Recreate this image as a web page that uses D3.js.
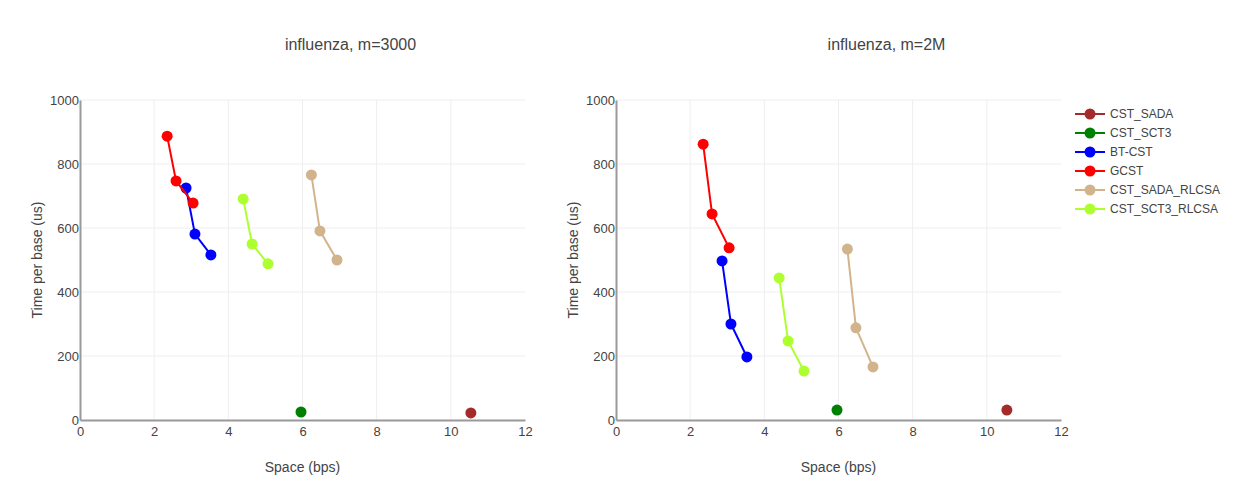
<!DOCTYPE html>
<html>
<head>
<meta charset="utf-8">
<script src="https://cdn.jsdelivr.net/npm/d3@7"></script>
<style>
  body { margin: 0; background: #fff; }
  svg { font-family: "Liberation Sans", Arial, sans-serif; }
</style>
</head>
<body>
<svg id="chart"></svg>
<script>
// data
const seriesNames = ["CST_SADA", "CST_SCT3", "BT-CST", "GCST", "CST_SADA_RLCSA", "CST_SCT3_RLCSA"];
const seriesColors = ["#a52a2a", "#008000", "#0000ff", "#ff0000", "#d2b48c", "#adff2f"];
const panelTitles = ["influenza, m=3000", "influenza, m=2M"];

const spaceSADA = [10.54];
const spaceSCT3 = [5.96];
const spaceBT = [2.86, 3.10, 3.53];
const spaceGCST = [2.35, 2.59, 3.05];
const spaceSADAR = [6.24, 6.47, 6.93];
const spaceSCT3R = [4.40, 4.64, 5.07];

// left panel, m=3000
const timeSADA_3000 = [22];
const timeSCT3_3000 = [25];
const timeBT_3000 = [725, 581, 516];
const timeGCST_3000 = [887, 747, 678];
const timeSADAR_3000 = [766, 591, 500];
const timeSCT3R_3000 = [691, 550, 488];

// right panel, m=2M
const timeSADA_2M = [31];
const timeSCT3_2M = [31];
const timeBT_2M = [497, 300, 197];
const timeGCST_2M = [862, 644, 538];
const timeSADAR_2M = [534, 288, 166];
const timeSCT3R_2M = [444, 247, 153];

const xTicks = [0, 2, 4, 6, 8, 10, 12];
const yTicks = [0, 200, 400, 600, 800, 1000];

const spaces = [spaceSADA, spaceSCT3, spaceBT, spaceGCST, spaceSADAR, spaceSCT3R];
const panelTimes = [
  [timeSADA_3000, timeSCT3_3000, timeBT_3000, timeGCST_3000, timeSADAR_3000, timeSCT3R_3000],
  [timeSADA_2M, timeSCT3_2M, timeBT_2M, timeGCST_2M, timeSADAR_2M, timeSCT3R_2M]
];

const W = 1236, H = 500;
const svg = d3.select("#chart").attr("width", W).attr("height", H);

const panelLeft = [80, 616];
const plotW = 445, plotTop = 100, plotBottom = 420;

panelTimes.forEach((times, p) => {
  const x = d3.scaleLinear().domain([0, 12]).range([panelLeft[p], panelLeft[p] + plotW]);
  const y = d3.scaleLinear().domain([0, 1000]).range([plotBottom, plotTop]);
  const g = svg.append("g");

  // grid
  g.selectAll(".vg").data(xTicks.slice(1, -1)).join("line")
    .attr("x1", d => x(d)).attr("x2", d => x(d))
    .attr("y1", plotTop).attr("y2", plotBottom)
    .attr("stroke", "#eee").attr("stroke-width", 1);
  g.selectAll(".hg").data(yTicks.slice(1)).join("line")
    .attr("x1", x(0)).attr("x2", x(12))
    .attr("y1", d => y(d)).attr("y2", d => y(d))
    .attr("stroke", "#eee").attr("stroke-width", 1);

  // axes
  const xAxis = g.append("g").attr("transform", `translate(0,${plotBottom})`)
    .call(d3.axisBottom(x).tickValues(xTicks).tickSize(0).tickPadding(7));
  const yAxis = g.append("g").attr("transform", `translate(${x(0)},0)`)
    .call(d3.axisLeft(y).tickValues(yTicks).tickFormat(d3.format("d")).tickSize(0).tickPadding(1));
  [xAxis, yAxis].forEach(a => {
    a.select(".domain").attr("stroke", "#999").attr("stroke-width", 2);
    a.selectAll("text").attr("fill", "#444").style("font-size", "13px")
      .style("font-family", "'Liberation Sans', Arial, sans-serif");
  });

  // titles
  g.append("text").attr("x", x(6) + 48).attr("y", 50).attr("text-anchor", "middle")
    .attr("fill", "#444").style("font-size", "16px").text(panelTitles[p]);
  g.append("text").attr("x", x(6)).attr("y", 472).attr("text-anchor", "middle")
    .attr("fill", "#444").style("font-size", "14px").text("Space (bps)");
  g.append("text").attr("transform", `translate(${x(0) - 38},${y(500)}) rotate(-90)`)
    .attr("text-anchor", "middle").attr("fill", "#444").style("font-size", "14px")
    .text("Time per base (us)");

  // series
  const line = d3.line().x(d => x(d[0])).y(d => y(d[1]));
  times.forEach((ts, i) => {
    const pts = spaces[i].map((s, k) => [s, ts[k]]);
    if (pts.length > 1) {
      g.append("path").datum(pts).attr("d", line)
        .attr("fill", "none").attr("stroke", seriesColors[i]).attr("stroke-width", 2);
    }
    g.selectAll(null).data(pts).join("circle")
      .attr("cx", d => x(d[0])).attr("cy", d => y(d[1])).attr("r", 5.5)
      .attr("fill", seriesColors[i]);
  });
});

// legend
const leg = svg.append("g").attr("transform", "translate(1075,114)");
seriesNames.forEach((name, i) => {
  const row = leg.append("g").attr("transform", `translate(0,${i * 19})`);
  row.append("line").attr("x1", 0).attr("x2", 30).attr("stroke", seriesColors[i]).attr("stroke-width", 2);
  row.append("circle").attr("cx", 15).attr("r", 5.5).attr("fill", seriesColors[i]);
  row.append("text").attr("x", 35).attr("dy", "0.35em").attr("fill", "#444")
    .style("font-size", "12px").text(name);
});
</script>
</body>
</html>
